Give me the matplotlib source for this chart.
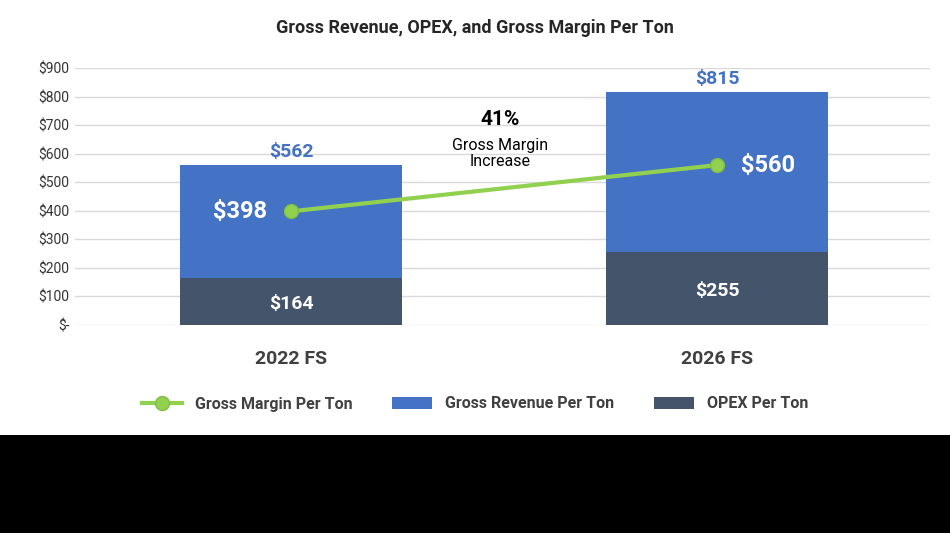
import matplotlib.pyplot as plt
from matplotlib.patches import Rectangle

categories = ['2022 FS', '2026 FS']
revenue = [562, 815]
opex = [164, 255]
margin = [398, 560]
ticks = [0, 100, 200, 300, 400, 500, 600, 700, 800, 900]
tick_labels = ['$-'] + [f'${t}' for t in ticks[1:]]

blue = '#4472C4'
dark = '#44546A'
green = '#92D050'

plt.rcParams['font.family'] = ['Roboto', 'DejaVu Sans']
fig = plt.figure(figsize=(9.5, 5.33), dpi=100, facecolor='black')
fig.patches.append(Rectangle((0, 1 - 435 / 533), 1, 435 / 533, transform=fig.transFigure,
                             facecolor='white', zorder=-10))
ax = fig.add_axes([0.079, 1 - 325 / 533, 0.9, (325 - 68) / 533])
ax.set_facecolor('white')
x = [0, 1]
ax.bar(x, revenue, width=0.52, color=blue, label='Gross Revenue Per Ton', zorder=2)
ax.bar(x, opex, width=0.52, color=dark, label='OPEX Per Ton', zorder=3)
ax.plot(x, margin, color=green, lw=3, marker='o', ms=10, mfc=green, mec='#7FBF3F',
        label='Gross Margin Per Ton', zorder=4)

ax.set_xlim(-0.507, 1.5)
ax.set_ylim(0, 900)
ax.set_yticks(ticks)
ax.set_yticklabels(tick_labels, fontsize=10, color='#333333')
ax.grid(axis='y', color='#D9D9D9', lw=1, zorder=0)
ax.set_xticks(x)
ax.set_xticklabels(categories, fontsize=14, fontweight='bold', color='#404040')
ax.tick_params(axis='x', length=0, pad=18)
ax.tick_params(axis='y', length=0, pad=4)
for s in ax.spines.values():
    s.set_visible(False)

for i in x:
    ax.text(i, revenue[i] + 45, f'${revenue[i]}', ha='center', va='center',
            fontsize=14, fontweight='bold', color=blue)
    ax.text(i, opex[i] / 2 - 10, f'${opex[i]}', ha='center', va='center',
            fontsize=14, fontweight='bold', color='white', zorder=5)
ax.text(-0.12, margin[0], f'${margin[0]}', ha='center', va='center',
        fontsize=17, fontweight='bold', color='white', zorder=5)
ax.text(1.12, margin[1], f'${margin[1]}', ha='center', va='center',
        fontsize=17, fontweight='bold', color='white', zorder=5)

pct = round((margin[1] / margin[0] - 1) * 100)
ax.text(0.49, 720, f'{pct}%', ha='center', va='center', fontsize=15, fontweight='bold')
ax.text(0.49, 600, 'Gross Margin\nIncrease', ha='center', va='center', fontsize=11.5,
        linespacing=1.1)

fig.text(0.5, 1 - 28 / 533, 'Gross Revenue, OPEX, and Gross Margin Per Ton', ha='center',
         va='center', fontsize=13, fontweight='bold', color='#262626')
fig.legend(loc='center', bbox_to_anchor=(0.5, 1 - 404 / 533), ncol=3, frameon=False,
           fontsize=11.5, prop={'weight': 'bold', 'size': 11.5}, handlelength=2.5,
           columnspacing=2.5, labelcolor='#404040')
fig.savefig('out.png', dpi=100, facecolor='black')
